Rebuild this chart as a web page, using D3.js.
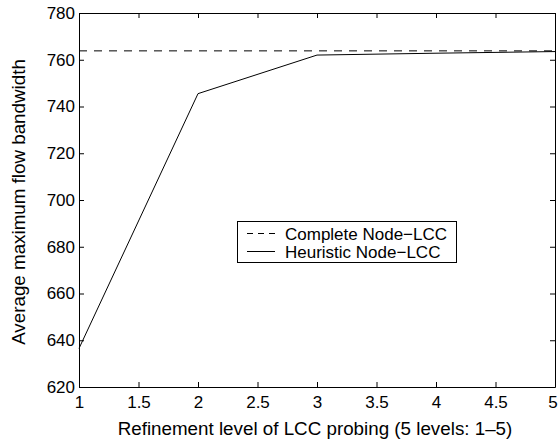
<!DOCTYPE html>
<html>
<head>
<meta charset="utf-8">
<script src="https://cdn.jsdelivr.net/npm/d3@7"></script>
<style>
  html, body { margin: 0; padding: 0; background: #fff; }
  svg { display: block; }
  text { font-family: "Liberation Sans", Arial, Helvetica, sans-serif; fill: #000; }
</style>
</head>
<body>
<svg id="chart" width="558" height="439"></svg>
<script>
// Refinement levels and measured bandwidths
const levels = [1, 2, 3, 4, 5];
const heuristic = [636.5, 745.5, 762, 762.8, 763.5];
const completeValue = 763.8;
const xTicks = [1, 1.5, 2, 2.5, 3, 3.5, 4, 4.5, 5];
const yTicks = [620, 640, 660, 680, 700, 720, 740, 760, 780];
const seriesNames = ["Complete Node\u2212LCC", "Heuristic Node\u2212LCC"];

const W = 558, H = 439;
const margin = { left: 79, top: 13, right: 3, bottom: 52 };
const svg = d3.select("#chart");

const x = d3.scaleLinear().domain([1, 5]).range([margin.left, W - margin.right]);
const y = d3.scaleLinear().domain([620, 780]).range([H - margin.bottom, margin.top]);

const tickLen = 5;
const tickFont = 17;
const titleFont = 18.8;
const fmtX = d => String(d);

// Bottom axis with labels
const gB = svg.append("g").attr("transform", `translate(0,${y(620)})`)
  .call(d3.axisBottom(x).tickValues(xTicks).tickFormat(fmtX).tickSizeInner(-tickLen).tickSizeOuter(0).tickPadding(9));
// Top axis (mirrored ticks, no labels)
const gT = svg.append("g").attr("transform", `translate(0,${y(780)})`)
  .call(d3.axisTop(x).tickValues(xTicks).tickFormat("").tickSizeInner(-tickLen).tickSizeOuter(0));
// Left axis with labels
const gL = svg.append("g").attr("transform", `translate(${x(1)},0)`)
  .call(d3.axisLeft(y).tickValues(yTicks).tickSizeInner(-tickLen).tickSizeOuter(0).tickPadding(4));
// Right axis (mirrored ticks)
const gR = svg.append("g").attr("transform", `translate(${x(5)},0)`)
  .call(d3.axisRight(y).tickValues(yTicks).tickFormat("").tickSizeInner(-tickLen).tickSizeOuter(0));

[gB, gT, gL, gR].forEach(g => {
  g.select(".domain").attr("stroke", "#000").attr("stroke-width", 1);
  g.selectAll(".tick line").attr("stroke", "#000").attr("stroke-width", 1);
  g.selectAll(".tick text").attr("font-size", tickFont)
    .attr("font-family", "Liberation Sans, Arial, sans-serif").attr("fill", "#000");
});
// keep the last x label inside the canvas edge
gB.selectAll(".tick text").filter(d => d === 5).attr("dx", -2.5);

// Complete Node-LCC reference line
svg.append("line")
  .attr("x1", x(1)).attr("x2", x(5))
  .attr("y1", y(completeValue)).attr("y2", y(completeValue))
  .attr("stroke", "#000").attr("stroke-width", 1).attr("stroke-dasharray", "8,7");

// Heuristic Node-LCC curve
const line = d3.line().x((d, i) => x(levels[i])).y(d => y(d));
svg.append("path").datum(heuristic)
  .attr("d", line).attr("fill", "none").attr("stroke", "#000").attr("stroke-width", 1);

// Legend
const lg = svg.append("g").attr("transform", "translate(237,221)");
lg.append("rect").attr("x", 0.5).attr("y", 0.5).attr("width", 219).attr("height", 41)
  .attr("fill", "#fff").attr("stroke", "#000").attr("stroke-width", 1);
const rows = [{ dash: "6,5", name: seriesNames[0] }, { dash: null, name: seriesNames[1] }];
rows.forEach((r, i) => {
  const yy = 12.5 + i * 18;
  lg.append("line").attr("x1", 10).attr("x2", 38).attr("y1", yy).attr("y2", yy)
    .attr("stroke", "#000").attr("stroke-width", 1)
    .attr("stroke-dasharray", r.dash);
  lg.append("text").attr("x", 48).attr("y", yy + 6)
    .attr("font-size", tickFont).text(r.name);
});

// Axis titles
svg.append("text").attr("x", 315).attr("y", 435)
  .attr("text-anchor", "middle").attr("font-size", titleFont)
  .text("Refinement level of LCC probing (5 levels: 1\u20135)");
svg.append("text")
  .attr("transform", `translate(25,${(y(620) + y(780)) / 2 + 2}) rotate(-90)`)
  .attr("text-anchor", "middle").attr("font-size", titleFont)
  .text("Average maximum flow bandwidth");
</script>
</body>
</html>
